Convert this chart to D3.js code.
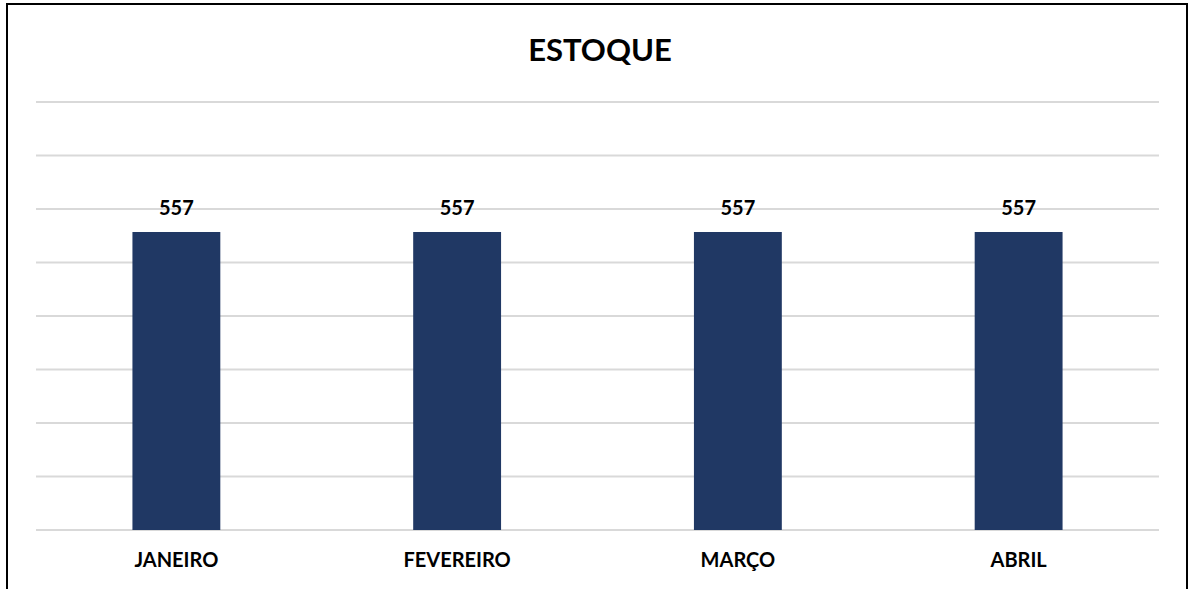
<!DOCTYPE html>
<html lang="pt">
<head>
<meta charset="utf-8">
<title>Estoque</title>
<script src="https://cdn.jsdelivr.net/npm/d3@7"></script>
<style>
  body { margin: 0; background: #fff; }
  text { font-family: Lato, "Open Sans", sans-serif; font-weight: bold; fill: #000; }
</style>
</head>
<body>
<script>
// dados
var months = ["JANEIRO", "FEVEREIRO", "MARÇO", "ABRIL"];
var stock = [557, 557, 557, 557];
var gridTicks = [0, 100, 200, 300, 400, 500, 600, 700, 800];

var w = 1194, h = 589;
var plotLeft = 36, plotRight = 1159, plotTop = 102, plotBottom = 530;

var svg = d3.select("body").append("svg")
  .attr("width", w)
  .attr("height", h);

// moldura
svg.append("path")
  .attr("d", "M7,589 V4 H1187 V589")
  .attr("fill", "none")
  .attr("stroke", "#000")
  .attr("stroke-width", 2);

var x = d3.scaleBand()
  .domain(months)
  .range([plotLeft, plotRight])
  .paddingInner(0.687)
  .paddingOuter(0.3435);

var y = d3.scaleLinear()
  .domain([0, 800])
  .range([plotBottom, plotTop]);

svg.selectAll(".grid")
  .data(gridTicks)
  .enter().append("line")
  .attr("class", "grid")
  .attr("x1", plotLeft)
  .attr("x2", plotRight)
  .attr("y1", function(d) { return y(d); })
  .attr("y2", function(d) { return y(d); })
  .attr("stroke", "#d9d9d9")
  .attr("stroke-width", 2);

svg.selectAll(".bar")
  .data(stock)
  .enter().append("rect")
  .attr("class", "bar")
  .attr("x", function(d, i) { return x(months[i]); })
  .attr("y", function(d) { return y(d); })
  .attr("width", x.bandwidth())
  .attr("height", function(d) { return y(0) - y(d); })
  .attr("fill", "#203864");

svg.selectAll(".val")
  .data(stock)
  .enter().append("text")
  .attr("class", "val")
  .attr("x", function(d, i) { return x(months[i]) + x.bandwidth() / 2; })
  .attr("y", function(d) { return y(d) - 17; })
  .attr("text-anchor", "middle")
  .attr("font-size", "20px")
  .text(function(d) { return d; });

svg.selectAll(".cat")
  .data(months)
  .enter().append("text")
  .attr("class", "cat")
  .attr("x", function(d) { return x(d) + x.bandwidth() / 2; })
  .attr("y", 567)
  .attr("text-anchor", "middle")
  .attr("font-size", "20px")
  .text(function(d) { return d; });

svg.append("text")
  .attr("x", 600)
  .attr("y", 61)
  .attr("text-anchor", "middle")
  .attr("font-size", "31px")
  .text("ESTOQUE");
</script>
</body>
</html>
